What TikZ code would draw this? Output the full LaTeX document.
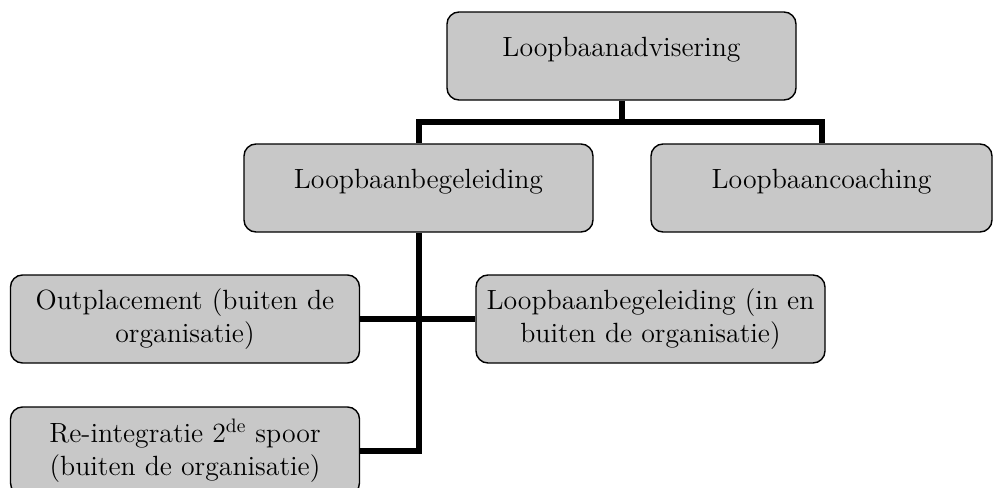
\documentclass[tikz,border=0pt]{standalone}
\usepackage{xcolor}
\usepackage{tikz}
\definecolor{boxgray}{RGB}{200,200,200}

\begin{document}
\begin{tikzpicture}[x=0.5pt,y=-0.5pt,
  box/.style={draw,fill=boxgray,rounded corners=6pt,line width=0.7pt,
    minimum width=174.5pt,minimum height=44pt,inner sep=0pt,align=center,
    font=\fontsize{13.9}{16.5}\selectfont},
  oneline/.style={text height=6pt,text depth=6pt},
  link/.style={draw,line width=3pt}]
\useasboundingbox (0,0) rectangle (993,488);
\node[box,oneline]         (A) at (621.5,56)  {Loopbaanadvisering};
  \node[box,oneline]       (B) at (418.5,188) {Loopbaanbegeleiding};
  \node[box,oneline,minimum width=170.5pt] (C) at (821.5,188) {Loopbaancoaching};
  \node[box]               (D) at (185,319)   {Outplacement (buiten de\\organisatie)};
  \node[box]               (E) at (650.5,319) {Loopbaanbegeleiding (in en\\buiten de organisatie)};
  \node[box]               (F) at (185,451)   {Re-integratie 2\textsuperscript{de} spoor\\(buiten de organisatie)};

  \path[link]
		(A.south) -- ++(0,21) -| (B.north)
        (A.south) ++(0,21) -| (C.north)
        (B.south) |- (F.east)
        (D.east) -- (E.west);
\end{tikzpicture}
\end{document}
